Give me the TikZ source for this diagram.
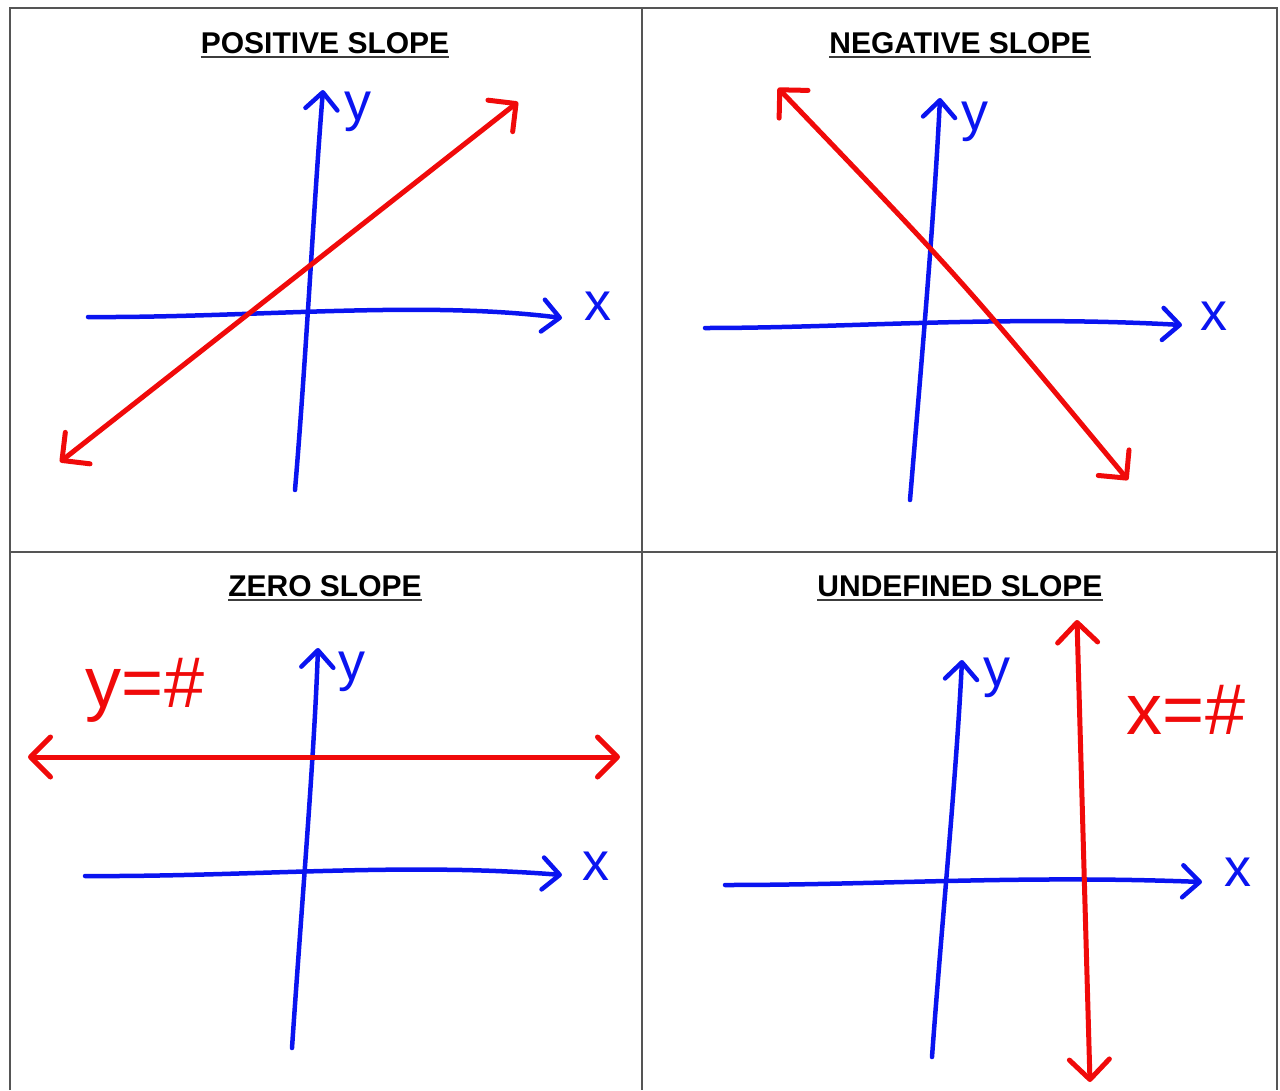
\documentclass[tikz,border=0pt]{standalone}
\usepackage{fontspec}
\setmainfont{Liberation Sans}
\usetikzlibrary{arrows.meta}
\definecolor{cAxis}{HTML}{0A14F0}
\definecolor{cLine}{HTML}{F00A0A}
\definecolor{cRule}{HTML}{555555}
\tikzset{
  frame/.style = {draw=cRule, line width=2pt},
  title/.style = {font=\fontsize{30}{36}\selectfont\bfseries, inner sep=0pt,
                  anchor=base},
  uline/.style = {draw=cRule!70!black, line width=2.5pt},
  axis/.style  = {draw=cAxis, line width=4.5pt, line cap=round,
                  -{Straight Barb[length=17pt,width=32pt,round]}},
  graph/.style = {draw=cLine, line width=5pt, line cap=round,
                  {Straight Barb[length=20pt,width=40pt,round]}-%
                  {Straight Barb[length=20pt,width=40pt,round]}},
  axlab/.style = {text=cAxis, font=\fontsize{54}{54}\selectfont, inner sep=0pt},
  eqlab/.style = {text=cLine, font=\fontsize{72}{72}\selectfont, inner sep=0pt},
}
\begin{document}
\begin{tikzpicture}[x=1pt, y=-1pt]
  \useasboundingbox (0,0) rectangle (1280,1090);
  % ---- table frame ----
  \draw[frame] (10,1090) |- (1277,8) -- (1277,1090);
  \draw[frame] (642,8) -- (642,1090);
  \draw[frame] (10,552) -- (1277,552);
  % ---- titles ----
  \node[title] (t1) at (325,53)  {POSITIVE SLOPE};
  \node[title] (t2) at (960,53)  {NEGATIVE SLOPE};
  \node[title] (t3) at (325,596) {ZERO SLOPE};
  \node[title] (t4) at (960,596) {UNDEFINED SLOPE};
  \foreach \t in {t1,t2,t3,t4}
    \draw[uline] ([yshift=-4pt]\t.base west) -- ([yshift=-4pt]\t.base east);
  % ---- positive slope ----
  \coordinate (p1yb) at (295,490);
  \coordinate (p1yt) at (323,90);
  \coordinate (p1xl) at (88,317);
  \coordinate (p1xr) at (562,318);
  \coordinate (p1a) at (60,462);
  \coordinate (p1b) at (518,102);
  \draw[axis] (p1yb) .. controls (306,360) and (314,200) .. (p1yt);
  \draw[axis] (p1xl) .. controls (250,318) and (420,300) .. (p1xr);
  \draw[graph] (p1a) -- (p1b);
  \node[axlab] (p1ylab) at (358,112) {y};
  \node[axlab] (p1xlab) at (598,306) {x};
  % ---- negative slope ----
  \coordinate (p2yb) at (910,500);
  \coordinate (p2yt) at (940,98);
  \coordinate (p2xl) at (705,328);
  \coordinate (p2xr) at (1182,325);
  \coordinate (p2a) at (778,88);
  \coordinate (p2b) at (1128,480);
  \draw[axis] (p2yb) .. controls (920,380) and (934,220) .. (p2yt);
  \draw[axis] (p2xl) .. controls (850,328) and (1000,315) .. (p2xr);
  \draw[graph] (p2a) .. controls (962,280) .. (p2b);
  \node[axlab] (p2ylab) at (975,122) {y};
  \node[axlab] (p2xlab) at (1214,316) {x};
  % ---- zero slope ----
  \coordinate (p3yb) at (292,1048);
  \coordinate (p3yt) at (318,648);
  \coordinate (p3xl) at (85,876);
  \coordinate (p3xr) at (562,875);
  \coordinate (p3a) at (28,757);
  \coordinate (p3b) at (620,757);
  \draw[axis] (p3yb) .. controls (302,900) and (314,760) .. (p3yt);
  \draw[axis] (p3xl) .. controls (250,877) and (400,862) .. (p3xr);
  \draw[graph] (p3a) -- (p3b);
  \node[axlab] (p3ylab) at (352,672) {y};
  \node[axlab] (p3xlab) at (596,866) {x};
  \node[eqlab] (p3eq) at (145,690) {y=\#};
  % ---- undefined slope ----
  \coordinate (p4yb) at (932,1057);
  \coordinate (p4yt) at (962,660);
  \coordinate (p4xl) at (725,885);
  \coordinate (p4xr) at (1202,882);
  \coordinate (p4a) at (1090,1082);
  \coordinate (p4b) at (1077,620);
  \draw[axis] (p4yb) .. controls (942,920) and (956,780) .. (p4yt);
  \draw[axis] (p4xl) .. controls (880,885) and (1020,875) .. (p4xr);
  \draw[graph] (p4a) -- (p4b);
  \node[axlab] (p4ylab) at (997,678) {y};
  \node[axlab] (p4xlab) at (1238,872) {x};
  \node[eqlab] (p4eq) at (1186,710) {x=\#};
\end{tikzpicture}
\end{document}
